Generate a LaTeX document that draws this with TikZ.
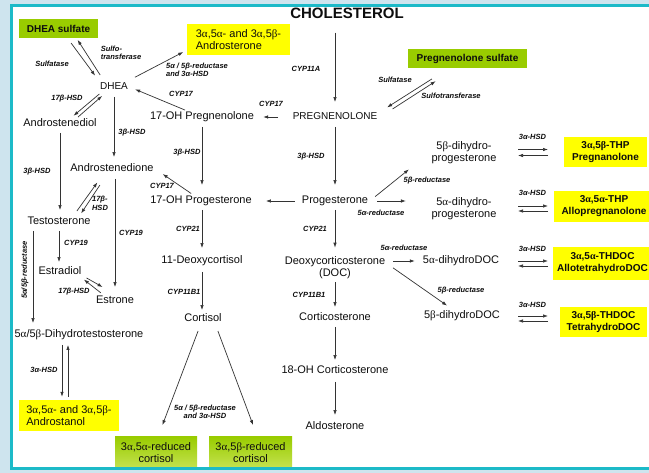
\documentclass[tikz,border=0pt]{standalone}
\usepackage{fontspec}
\setmainfont{Liberation Sans}
\newfontfamily\grkfont{Liberation Serif}
\usetikzlibrary{arrows.meta, positioning, calc}

\newcommand{\galpha}{{\grkfont α}}
\newcommand{\gbeta}{{\grkfont β}}

\definecolor{hlyellow}{RGB}{255,255,0}
\definecolor{hlgreen}{RGB}{153,204,0}
\definecolor{hlgreenlight}{RGB}{196,226,80}
\definecolor{frameteal}{RGB}{28,186,200}
\definecolor{slideblue}{RGB}{206,228,238}

\tikzset{
    steroid/.style={inner sep=1.5pt, align=center, text=black!95, font=\fontsize{11}{12}\selectfont},
    single/.style={steroid, text height=8pt, text depth=2.5pt},
    capsname/.style={single, font=\fontsize{10}{12}\selectfont},
    enzyme/.style={inner sep=0.5pt, align=left, text=black!95, font=\fontsize{7.5}{8.5}\selectfont\bfseries\itshape},
    hlbox/.style={rectangle, inner sep=2pt, align=left, text=black!95, font=\fontsize{11}{12}\selectfont},
    yellowbox/.style={hlbox, fill=hlyellow},
    greenbox/.style={hlbox, fill=hlgreen, align=center, font=\fontsize{10}{12}\selectfont\bfseries},
    reducedbox/.style={hlbox, align=center, top color=hlgreen, bottom color=hlgreenlight},
    thpbox/.style={yellowbox, align=center, font=\fontsize{10}{12}\selectfont\bfseries},
    arrow/.style={-{Latex[length=5pt,width=3.5pt]}, line width=0.7pt, draw=black!80}
}

\begin{document}
\begin{tikzpicture}[x=1pt, y=-1pt]
    \useasboundingbox (0,0) rectangle (649,473);

    % slide background
    \fill[slideblue] (0,0) rectangle (649,473);
    \fill[white] (12,6) rectangle (680,468);

    % ============================================================
    % Nodes: androgen branch (left)
    % ============================================================
    \node[greenbox, minimum width=79pt, minimum height=19pt] (dheas) at (58.5,28.5) {DHEA sulfate};
    \node[capsname] (dhea) at (114,87) {DHEA};
    \node[yellowbox, minimum width=103pt, minimum height=31pt] (androsterone) at (238.5,39.5) {3\galpha,5\galpha- and 3\galpha,5\gbeta-\\Androsterone};
    \node[single] (adiol) at (60,124) {Androstenediol};
    \node[single] (adione) at (112,169) {Androstenedione};
    \node[single] (testo) at (59,222) {Testosterone};
    \node[single] (estradiol) at (60,272) {Estradiol};
    \node[single] (estrone) at (115,301) {Estrone};
    \node[single] (dht) at (79,335) {5\galpha/5\gbeta-Dihydrotestosterone};
    \node[yellowbox, minimum width=100pt, minimum height=31pt] (androstanol) at (69,415.5) {3\galpha,5\galpha- and 3\galpha,5\gbeta-\\Androstanol};

    % ============================================================
    % Nodes: main column and glucocorticoids (middle)
    % ============================================================
    \node[inner sep=1.5pt, text=black!95, font=\fontsize{15}{16}\selectfont\bfseries] (chol) at (347,13.5) {CHOLESTEROL};
    \node[capsname] (preg) at (335,117) {PREGNENOLONE};
    \node[single] (ohpreg) at (202,117) {17-OH Pregnenolone};
    \node[greenbox, minimum width=119pt, minimum height=19pt] (pregs) at (467.5,58.5) {Pregnenolone sulfate};
    \node[single] (ohprog) at (201,201) {17-OH Progesterone};
    \node[single] (prog) at (335,201) {Progesterone};
    \node[single] (deoxy) at (202,261) {11-Deoxycortisol};
    \node[single] (cortisol) at (203,319) {Cortisol};
    \node[reducedbox, minimum width=82pt, minimum height=31pt] (redA) at (156,452.5) {3\galpha,5\galpha-reduced\\cortisol};
    \node[reducedbox, minimum width=83pt, minimum height=31pt] (redB) at (250.5,452.5) {3\galpha,5\gbeta-reduced\\cortisol};
    \node[steroid] (doc) at (335,267.5) {Deoxycorticosterone\\(DOC)};
    \node[single] (cortico) at (335,318) {Corticosterone};
    \node[single] (ohcortico) at (335,371) {18-OH Corticosterone};
    \node[single] (aldo) at (335,427) {Aldosterone};

    % ============================================================
    % Nodes: neurosteroids (right)
    % ============================================================
    \node[steroid] (dhpB) at (464,152.5) {5\gbeta-dihydro-\\progesterone};
    \node[steroid] (dhpA) at (464,208.5) {5\galpha-dihydro-\\progesterone};
    \node[single] (dhdocA) at (461,261) {5\galpha-dihydroDOC};
    \node[single] (dhdocB) at (462,316) {5\gbeta-dihydroDOC};
    \node[thpbox, minimum width=83pt, minimum height=30pt] (thpB) at (605.5,152) {3\galpha,5\gbeta-THP\\Pregnanolone};
    \node[thpbox, minimum width=100pt, minimum height=31pt] (thpA) at (604,206.5) {3\galpha,5\galpha-THP\\Allopregnanolone};
    \node[thpbox, minimum width=99pt, minimum height=33pt] (thdocA) at (602.5,263.5) {3\galpha,5\galpha-THDOC\\AllotetrahydroDOC};
    \node[thpbox, minimum width=87pt, minimum height=30pt] (thdocB) at (603.5,322) {3\galpha,5\gbeta-THDOC\\TetrahydroDOC};

    % ============================================================
    % Enzyme labels
    % ============================================================
    \node[enzyme] (lSulf) at (52,64) {Sulfatase};
    \node[enzyme] (lSulfo) at (121,53) {Sulfo-\\transferase};
    \node[enzyme] (lRedAndro) at (197,70) {5α / 5β-reductase\\and 3α-HSD};
    \node[enzyme] (lCypA) at (181,94) {CYP17};
    \node[enzyme] (lCypB) at (271,104) {CYP17};
    \node[enzyme] (lCyp11a) at (306,69) {CYP11A};
    \node[enzyme] (lHsdA) at (67,99) {17β-HSD};
    \node[enzyme] (lHsdB) at (132,133) {3β-HSD};
    \node[enzyme] (lHsdC) at (37,172) {3β-HSD};
    \node[enzyme] (lHsdD) at (187,153) {3β-HSD};
    \node[enzyme] (lHsdE) at (311,157) {3β-HSD};
    \node[enzyme] (lCypC) at (162,186) {CYP17};
    \node[enzyme] (lHsdF) at (100,203.5) {17β-\\HSD};
    \node[enzyme] (lCyp19a) at (131,233) {CYP19};
    \node[enzyme] (lCyp19b) at (76,243) {CYP19};
    \node[enzyme] (lHsdG) at (74,292) {17β-HSD};
    \node[enzyme, rotate=90] (lRedDht) at (25,270) {5α/5β-reductase};
    \node[enzyme] (lHsdH) at (44,370) {3α-HSD};
    \node[enzyme] (lCyp21a) at (188,229) {CYP21};
    \node[enzyme] (lCyp21b) at (315,229) {CYP21};
    \node[enzyme] (lCyp11bA) at (184,292) {CYP11B1};
    \node[enzyme] (lCyp11bB) at (309,295) {CYP11B1};
    \node[enzyme, align=center] (lRedCort) at (205,412) {5α / 5β-reductase\\and 3α-HSD};
    \node[enzyme] (lSulfR) at (395,80) {Sulfatase};
    \node[enzyme] (lSulfoR) at (451,96) {Sulfotransferase};
    \node[enzyme] (lRedB) at (427,181) {5β-reductase};
    \node[enzyme] (lRedA) at (381,213) {5α-reductase};
    \node[enzyme] (lRedC) at (404,248) {5α-reductase};
    \node[enzyme] (lRedD) at (461,291) {5β-reductase};
    \node[enzyme] (lRevA) at (532.5,137) {3α-HSD};
    \node[enzyme] (lRevB) at (532.5,193) {3α-HSD};
    \node[enzyme] (lRevC) at (532.5,249) {3α-HSD};
    \node[enzyme] (lRevD) at (532.5,305) {3α-HSD};

    % ============================================================
    % Arrows: androgen branch
    % ============================================================
    \draw[arrow, shorten <=6pt, shorten >=5.5pt] ([xshift=9pt]dheas.south) -- (dhea.north west);
    \draw[arrow, shorten <=6pt, shorten >=2pt] ([xshift=5pt]dhea.north west) -- ([xshift=18pt]dheas.south);
    \draw[arrow, shorten <=6pt, shorten >=4pt] (dhea.north east) -- ([yshift=5pt]androsterone.south west);
    \draw[arrow, shorten >=6pt] ([xshift=-17pt]ohpreg.north) -- (dhea.east);
    \draw[arrow, shorten >=2pt] ([xshift=1pt]dhea.south west) -- ([xshift=12pt]adiol.north);
    \draw[arrow, shorten >=3pt] ([xshift=18pt]adiol.north) -- ([xshift=6pt]dhea.south west);
    \draw[arrow, shorten <=3pt, shorten >=5pt] (dhea.south) -- (dhea.south |- adione.north);
    \draw[arrow, shorten <=2pt, shorten >=5pt] (adiol.south) -- (adiol.south |- testo.north);
    \draw[arrow, shorten <=5pt, shorten >=8pt] ([xshift=15pt]testo.north) -- ([xshift=-10pt]adione.south);
    \draw[arrow, shorten <=11pt, shorten >=2pt] ([xshift=-6pt]adione.south) -- ([xshift=21pt]testo.north);
    \draw[arrow, shorten <=2pt, shorten >=3pt] (testo.south) -- (testo.south |- estradiol.north);
    \draw[arrow, shorten <=3pt, shorten >=7pt] (adione.south -| estrone.north) -- (estrone.north);
    \draw[arrow, shorten <=4pt, shorten >=2pt] ([yshift=-4pt]estradiol.east) -- ([xshift=10pt, yshift=6pt]estrone.north west);
    \draw[arrow, shorten <=2pt, shorten >=1pt] ([xshift=8pt]estrone.north west) -- (estradiol.south east);
    \coordinate (dhtcol) at ([xshift=-26pt]testo.south);
    \draw[arrow, shorten <=2pt, shorten >=5pt] (dhtcol) -- (dhtcol |- dht.north);
    \draw[arrow, shorten <=3pt, shorten >=3pt] ([xshift=-17pt]dht.south) -- ([xshift=-7pt]androstanol.north);
    \draw[arrow, shorten <=3pt, shorten >=3pt] ([xshift=-1pt]androstanol.north) -- ([xshift=-11pt]dht.south);

    % ============================================================
    % Arrows: main column and glucocorticoids
    % ============================================================
    \draw[arrow, shorten <=12pt, shorten >=8pt] (preg.north |- chol.south) -- (preg.north);
    \draw[arrow, shorten <=13pt, shorten >=7.5pt] (preg.west) -- (ohpreg.east);
    \draw[arrow, shorten <=3pt, shorten >=9pt] (preg) -- (prog);
    \draw[arrow, shorten <=3pt, shorten >=9pt] (ohpreg.south) -- (ohpreg.south |- ohprog.north);
    \draw[arrow, shorten >=12.5pt] ([xshift=-5.5pt]prog.west) -- (ohprog.east);
    \draw[arrow, shorten <=1pt, shorten >=9pt] ([xshift=-9pt]ohprog.north) -- (adione.east);
    \draw[arrow, shorten <=2pt, shorten >=6pt] (deoxy.north |- ohprog.south) -- (deoxy.north);
    \draw[arrow, shorten <=4pt, shorten >=2pt] (deoxy.south) -- (deoxy.south |- cortisol.north);
    \draw[arrow, shorten <=5.5pt, shorten >=12.5pt] ([xshift=-3pt]cortisol.south) -- ([xshift=2pt]redA.north);
    \draw[arrow, shorten <=5.5pt, shorten >=12.5pt] ([xshift=13pt]cortisol.south) -- ([xshift=7pt]redB.north);
    \draw[arrow, shorten <=2pt, shorten >=7pt] (prog) -- (doc);
    \draw[arrow, shorten <=2pt, shorten >=4pt] (doc) -- (cortico);
    \draw[arrow, shorten <=2pt, shorten >=4pt] (cortico) -- (ohcortico);
    \draw[arrow, shorten <=4pt, shorten >=5pt] (ohcortico) -- (aldo);

    % ============================================================
    % Arrows: neurosteroids
    % ============================================================
    \draw[arrow, shorten <=20pt, shorten >=5pt] ([xshift=41pt]pregs.south west) -- ([xshift=4pt]preg.north east);
    \draw[arrow, shorten <=2pt, shorten >=24pt] ([xshift=12pt]preg.north east) -- ([xshift=48pt]pregs.south west);
    \draw[arrow, shorten <=7pt, shorten >=27pt] (prog.east) -- (dhpB.west);
    \draw[arrow, shorten <=7.5pt, shorten >=24pt] (prog.east) -- (prog.east -| dhpA.west);
    \draw[arrow, shorten <=6.5pt, shorten >=6.5pt] (dhdocA.west -| doc.east) -- (dhdocA.west);
    \draw[arrow, shorten <=7.5pt, shorten >=6pt] ([yshift=4pt]doc.east) -- ([xshift=-10pt]dhdocB.north);

    % reversible 3a-HSD steps
    \coordinate (revL) at (518,0);
    \coordinate (revR) at (548,0);
    \draw[arrow] (revL |- dhpB.east) ++(0,-3) -- ++(30,0);
    \draw[arrow] (revR |- dhpB.east) ++(0,3) -- ++(-30,0);
    \draw[arrow] (revL |- dhpA.east) ++(0,-2.5) -- ++(30,0);
    \draw[arrow] (revR |- dhpA.east) ++(0,2.5) -- ++(-30,0);
    \draw[arrow] (revL |- thdocA.west) ++(0,-2.5) -- ++(30,0);
    \draw[arrow] (revR |- thdocA.west) ++(0,2.5) -- ++(-30,0);
    \draw[arrow] (revL |- dhdocB.east) -- ++(30,0);
    \draw[arrow] (revR |- dhdocB.east) ++(0,5) -- ++(-30,0);

    % slide frame
    \draw[frameteal, line width=3pt] (11.5,5.5) rectangle (690,468.5);
\end{tikzpicture}
\end{document}
